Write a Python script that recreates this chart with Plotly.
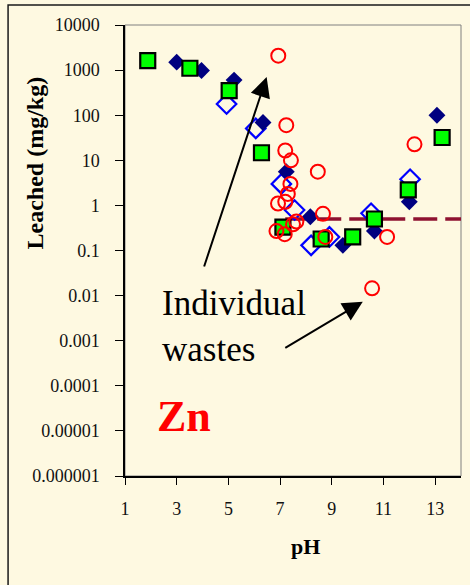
import plotly.graph_objects as go

# Leaching of Zn versus pH for several test series and individual wastes
ph_navy = [3.0, 3.96, 5.22, 6.34, 7.24, 8.17, 9.43, 10.65, 12.0, 13.07]
zn_navy = [1500, 980, 600, 69, 5.6, 0.56, 0.13, 0.27, 1.2, 100]

ph_open = [4.93, 6.06, 7.05, 7.56, 8.2, 8.91, 10.52, 12.03]
zn_open = [178, 51, 3.0, 0.79, 0.13, 0.2, 0.67, 3.8]

ph_square = [1.88, 3.51, 5.03, 6.28, 7.11, 8.59, 9.81, 10.65, 11.96, 13.27]
zn_square = [1620, 1100, 350, 14.7, 0.33, 0.18, 0.2, 0.5, 2.2, 32]

ph_waste = [6.93, 7.24, 7.2, 7.42, 8.46, 7.4, 7.3, 7.2, 6.92, 8.66,
            7.63, 7.5, 6.86, 7.18, 8.75, 11.14, 10.56, 12.2]
zn_waste = [2090, 60, 16.5, 10, 5.6, 3.0, 1.8, 1.2, 1.1, 0.65,
            0.44, 0.38, 0.27, 0.23, 0.2, 0.2, 0.0145, 22.6]

limit_ph = [7.2, 14]
limit_zn = [0.5, 0.5]

x_ticks = [1, 3, 5, 7, 9, 11, 13]
y_ticks = [1e-6, 1e-5, 1e-4, 1e-3, 1e-2, 1e-1, 1, 10, 100, 1000, 10000]
y_tick_labels = ["0.000001", "0.00001", "0.0001", "0.001", "0.01", "0.1",
                 "1", "10", "100", "1000", "10000"]

BG = "#FEF9E1"
SERIF = "'Liberation Serif', 'Times New Roman', serif"

fig = go.Figure()

fig.add_trace(go.Scatter(
    x=limit_ph, y=limit_zn, mode="lines",
    line=dict(color="#8E1230", width=3.5, dash="24px,8px"),
    showlegend=False, hoverinfo="skip"))

fig.add_trace(go.Scatter(
    x=ph_open, y=zn_open, mode="markers",
    marker=dict(symbol="diamond-open", size=15, color="#0000FF",
                line=dict(color="#0000FF", width=2.2)),
    showlegend=False))

fig.add_trace(go.Scatter(
    x=ph_navy, y=zn_navy, mode="markers",
    marker=dict(symbol="diamond", size=13, color="#000080",
                line=dict(width=0)),
    showlegend=False))

fig.add_trace(go.Scatter(
    x=ph_square, y=zn_square, mode="markers",
    marker=dict(symbol="square", size=15, color="#00FF00",
                line=dict(color="#000000", width=2.2)),
    showlegend=False))

fig.add_trace(go.Scatter(
    x=ph_waste, y=zn_waste, mode="markers",
    marker=dict(symbol="circle-open", size=14, color="#FF0000",
                line=dict(color="#FF0000", width=2)),
    showlegend=False))

annotations = [
    dict(text="Leached (mg/kg)", textangle=-90, xref="paper", yref="paper",
         x=-0.268, y=0.695, xanchor="center", yanchor="middle",
         showarrow=False,
         font=dict(family=SERIF, size=24, color="#000000", weight="bold")),
    dict(text="pH", xref="paper", yref="paper", x=0.536, y=-0.157,
         xanchor="center", yanchor="middle", showarrow=False,
         font=dict(family=SERIF, size=22, color="#000000", weight="bold")),
    dict(text="Zn", xref="paper", yref="paper", x=0.177, y=0.131,
         xanchor="center", yanchor="middle", showarrow=False,
         font=dict(family=SERIF, size=44, color="#FF0000", weight="bold")),
    dict(text="Individual<br>wastes", xref="paper", yref="paper",
         x=0.104, y=0.331, xanchor="left", yanchor="middle", align="left",
         showarrow=False,
         font=dict(family=SERIF, size=35, color="#000000")),
    # arrows from the label towards the waste points
    dict(text="", x=6.48, y=2.847, xref="x", yref="y", ax=-63, ay=191,
         showarrow=True, arrowhead=2, arrowsize=2, arrowwidth=2,
         arrowcolor="#000000"),
    dict(text="", x=10.2, y=-2.135, xref="x", yref="y", ax=-79, ay=47,
         showarrow=True, arrowhead=2, arrowsize=2, arrowwidth=2,
         arrowcolor="#000000"),
]

shapes = [
    # thin grey border on the top and right of the plot area
    dict(type="rect", xref="paper", yref="paper", x0=0, x1=1, y0=0, y1=1,
         line=dict(color="#808080", width=1), layer="below"),
    # outer frame around the whole panel
    dict(type="rect", xref="paper", yref="paper", x0=-0.348, x1=1.06,
         y0=-0.27, y1=1.0443, line=dict(color="#1A1A1A", width=1.5)),
]

fig.update_layout(
    width=470, height=585,
    margin=dict(l=125, r=9, t=25, b=109),
    paper_bgcolor=BG, plot_bgcolor=BG,
    annotations=annotations, shapes=shapes,
    font=dict(family=SERIF, color="#000000"),
)

fig.update_xaxes(
    range=[1, 14], tickvals=x_ticks, ticktext=[str(v) for v in x_ticks],
    showgrid=False, zeroline=False, showline=True, linecolor="#000000",
    linewidth=1.5, ticks="outside", ticklen=7, tickwidth=1.2,
    tickcolor="#000000", ticklabelstandoff=9,
    tickfont=dict(family=SERIF, size=18, color="#111111"),
)
fig.update_yaxes(
    type="log", range=[-6, 4], tickvals=y_ticks, ticktext=y_tick_labels,
    showgrid=False, zeroline=False, showline=True, linecolor="#000000",
    linewidth=1.5, ticks="outside", ticklen=8, tickwidth=1.2,
    tickcolor="#000000", ticklabelstandoff=12,
    tickfont=dict(family=SERIF, size=18, color="#111111"),
)

fig.write_html("out.html")
